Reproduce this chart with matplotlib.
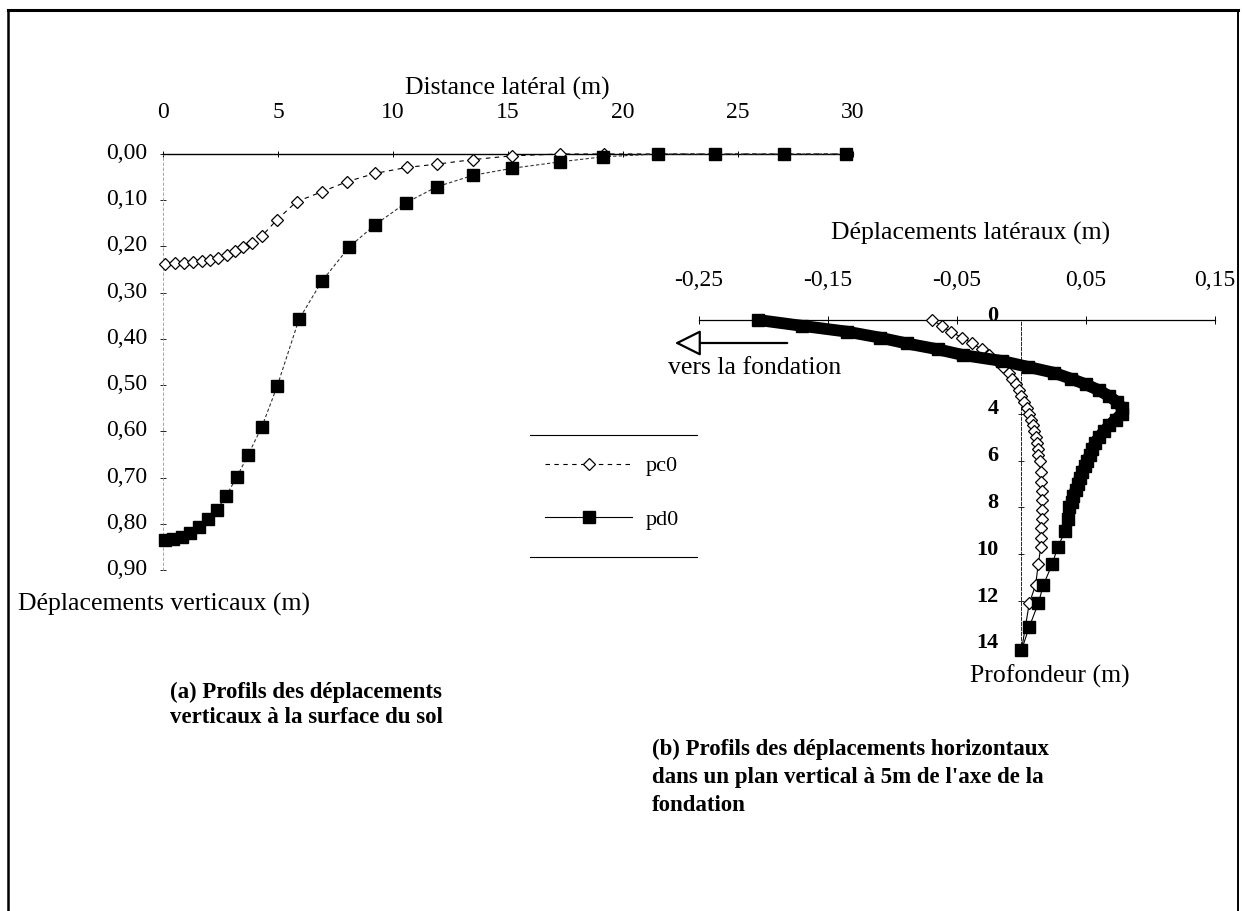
import matplotlib
matplotlib.use("Agg")
import matplotlib.pyplot as plt
from matplotlib.lines import Line2D
from matplotlib.patches import FancyArrowPatch
from matplotlib.ticker import FixedLocator, FuncFormatter
from matplotlib.transforms import ScaledTranslation

W, H = 1242, 911
plt.rcParams['font.family'] = ['Liberation Serif', 'DejaVu Serif']

# ---------------- data (a): vertical displacements at ground surface ----------------
a_pc0_dist = [0.1, 0.5, 0.9, 1.3, 1.7, 2.05, 2.4, 2.77, 3.13, 3.49, 3.86, 4.29,
              4.94, 5.81, 6.9, 7.99, 9.22, 10.6, 11.9, 13.49, 15.16, 17.26, 19.17,
              21.5, 24.0, 27.0, 29.7]
a_pc0_disp = [0.237, 0.236, 0.235, 0.234, 0.232, 0.229, 0.225, 0.219, 0.210, 0.201,
              0.192, 0.178, 0.143, 0.103, 0.082, 0.060, 0.042, 0.029, 0.022, 0.012,
              0.004, 0.0, 0.0, 0.0, 0.0, 0.0, 0.0]
a_pd0_dist = [0.1, 0.43, 0.83, 1.17, 1.57, 1.96, 2.35, 2.74, 3.22, 3.70, 4.30, 4.96,
              5.91, 6.91, 8.1, 9.2, 10.55, 11.9, 13.49, 15.16, 17.26, 19.14, 21.5,
              24.0, 27.0, 29.7]
a_pd0_disp = [0.835, 0.833, 0.829, 0.820, 0.807, 0.790, 0.770, 0.740, 0.698, 0.651,
              0.590, 0.503, 0.358, 0.275, 0.201, 0.154, 0.106, 0.071, 0.046, 0.031,
              0.017, 0.006, 0.0, 0.0, 0.0, 0.0]
a_xticks = [0, 5, 10, 15, 20, 25, 30]
a_yticks = [0.0, 0.1, 0.2, 0.3, 0.4, 0.5, 0.6, 0.7, 0.8, 0.9]

# ---------------- data (b): lateral displacements vs depth ----------------
b_pc0_depth = [0.0, 0.25, 0.5, 0.75, 1.0, 1.25, 1.5, 1.75, 2.0, 2.25, 2.5, 2.75, 3.0,
               3.25, 3.5, 3.75, 4.0, 4.25, 4.5, 4.75, 5.0, 5.25, 5.5, 5.75, 6.0, 6.5,
               6.9, 7.3, 7.7, 8.1, 8.5, 8.9, 9.3, 9.7, 10.4, 11.3, 12.1, 14.1]
b_pc0_disp = [-0.069, -0.062, -0.055, -0.046, -0.038, -0.031, -0.025, -0.019, -0.014,
              -0.010, -0.007, -0.004, -0.002, 0.0, 0.002, 0.004, 0.006, 0.007, 0.009,
              0.010, 0.011, 0.012, 0.013, 0.013, 0.014, 0.015, 0.015, 0.016, 0.016,
              0.016, 0.016, 0.015, 0.015, 0.015, 0.013, 0.011, 0.006, 0.0]
b_pd0_depth = [0.0, 0.25, 0.5, 0.75, 1.0, 1.25, 1.5, 1.75, 2.0, 2.25, 2.5, 2.75, 3.0,
               3.25, 3.5, 3.75, 4.0, 4.25, 4.5, 4.75, 5.0, 5.25, 5.5, 5.75, 6.0, 6.25,
               6.5, 6.75, 7.0, 7.25, 7.5, 7.75, 8.0, 8.5, 9.0, 9.7, 10.4, 11.3, 12.1,
               13.1, 14.1]
b_pd0_disp = [-0.204, -0.17, -0.135, -0.11, -0.089, -0.065, -0.045, -0.015, 0.005,
              0.025, 0.038, 0.05, 0.06, 0.068, 0.074, 0.078, 0.078, 0.073, 0.068, 0.064,
              0.060, 0.057, 0.055, 0.053, 0.051, 0.049, 0.047, 0.045, 0.044, 0.042,
              0.040, 0.039, 0.037, 0.036, 0.034, 0.028, 0.024, 0.017, 0.013, 0.006, 0.0]
b_xticks = [-0.25, -0.15, -0.05, 0.05, 0.15]
b_yticks = [0, 2, 4, 6, 8, 10, 12, 14]
b_ylabels = ['0', '', '4', '6', '8', '10', '12', '14']

series_labels = ['pc0', 'pd0']

TICK_FS = 17
TITLE_FS = 18.5
CAP_FS = 16.5


def rect(l, t, r, b):
    return [l / W, 1 - b / H, (r - l) / W, (b - t) / H]


def fx(x):
    return x / W


def fy(y):
    return 1 - y / H


def comma(v, p):
    return f"{v:.2f}".replace('.', ',')


def lift_labels(ax, dy_px, dx_px=0):
    off = ScaledTranslation(dx_px / 100, dy_px / 100, fig.dpi_scale_trans)
    for lab in ax.get_yticklabels():
        lab.set_transform(lab.get_transform() + off)


fig = plt.figure(figsize=(W / 100, H / 100), dpi=100)
fig.patch.set_facecolor('white')

# ---------------- chart (a) ----------------
axa = fig.add_axes(rect(163, 154, 853, 570))
axa.set_xlim(0, 30)
axa.set_ylim(0.9, 0.0)
axa.patch.set_alpha(0)
for s in ['bottom', 'right']:
    axa.spines[s].set_visible(False)
axa.spines['top'].set_linewidth(1.0)
axa.spines['left'].set_linewidth(0.6)
axa.spines['left'].set_color('#999999')
axa.spines['left'].set_linestyle((0, (3, 3)))
axa.xaxis.tick_top()
axa.xaxis.set_major_locator(FixedLocator(a_xticks))
axa.yaxis.set_major_locator(FixedLocator(a_yticks))
axa.yaxis.set_major_formatter(FuncFormatter(comma))
axa.tick_params(axis='x', direction='inout', length=4, width=0.7, pad=20,
                labelsize=TICK_FS)
axa.tick_params(axis='y', direction='inout', length=4, width=0.6, pad=9,
                labelsize=TICK_FS, colors='black')

axa.plot(a_pc0_dist, a_pc0_disp, color='black', lw=0.8, linestyle=(0, (4, 4)),
         marker='D', ms=6, mfc='white', mec='black', mew=0.9, clip_on=False, zorder=3)
axa.plot(a_pd0_dist, a_pd0_disp, color='#333333', lw=0.8, linestyle=(0, (3, 2)),
         marker='s', ms=8.5, mfc='black', mec='black', clip_on=False, zorder=4)

fig.text(fx(507), fy(88), 'Distance latéral (m)', ha='center', va='center',
         fontsize=TITLE_FS)
fig.text(fx(18), fy(604), 'Déplacements verticaux (m)', ha='left', va='center',
         fontsize=TITLE_FS)

# legend
leg_pc0 = Line2D([], [], color='black', lw=0.8, linestyle=(0, (4, 4)), marker='D',
                 ms=6, mfc='white', mec='black', mew=0.9)
leg_pd0 = Line2D([], [], color='black', lw=0.8, marker='s', ms=8.5, mfc='black',
                 mec='black')
fig.legend([leg_pc0, leg_pd0], series_labels, loc='center',
           bbox_to_anchor=(fx(612), fy(493)), frameon=False, fontsize=TICK_FS - 1,
           handlelength=3.9, handletextpad=0.6, labelspacing=1.5)
fig.add_artist(Line2D([fx(530), fx(697)], [fy(435), fy(435)], color='black', lw=0.8,
                      transform=fig.transFigure))
fig.add_artist(Line2D([fx(530), fx(697)], [fy(557), fy(557)], color='black', lw=0.8,
                      transform=fig.transFigure))

# ---------------- chart (b) ----------------
axb = fig.add_axes(rect(699, 320, 1215, 655))
axb.set_xlim(-0.25, 0.15)
axb.set_ylim(14.3, 0.0)
axb.patch.set_alpha(0)
for s in ['bottom', 'right']:
    axb.spines[s].set_visible(False)
axb.spines['top'].set_linewidth(0.9)
axb.spines['left'].set_position(('data', 0))
axb.spines['left'].set_linewidth(0.6)
axb.spines['left'].set_linestyle((0, (4, 2)))
axb.xaxis.tick_top()
axb.xaxis.set_major_locator(FixedLocator(b_xticks))
axb.xaxis.set_major_formatter(FuncFormatter(comma))
axb.tick_params(axis='x', direction='inout', length=6, width=0.7, pad=18,
                labelsize=TICK_FS)
axb.yaxis.set_major_locator(FixedLocator(b_yticks))
axb.set_yticklabels(b_ylabels, fontweight='bold')
axb.tick_params(axis='y', direction='inout', length=5, width=0.6, pad=14,
                labelsize=TICK_FS - 1)

# dense upper part of pd0 appears as a continuous thick band
n_dense = sum(1 for d in b_pd0_depth if d <= 8.0)
axb.plot(b_pd0_disp[:n_dense], b_pd0_depth[:n_dense], color='black', lw=8.5,
         solid_capstyle='butt', solid_joinstyle='round', clip_on=False, zorder=4)
axb.plot(b_pc0_disp, b_pc0_depth, color='black', lw=0.8, marker='D', ms=6.5,
         mfc='white', mec='black', mew=0.9, clip_on=False, zorder=3)
axb.plot(b_pd0_disp, b_pd0_depth, color='black', lw=0.8, marker='s', ms=8,
         mfc='black', mec='black', clip_on=False, zorder=4)

fig.text(fx(831), fy(233), 'Déplacements latéraux (m)', ha='left', va='center',
         fontsize=TITLE_FS)
fig.text(fx(970), fy(676), 'Profondeur (m)', ha='left', va='center',
         fontsize=TITLE_FS)

# arrow "vers la fondation"
fig.add_artist(FancyArrowPatch(
    (fx(790), fy(343)), (fx(672), fy(343)), transform=fig.transFigure,
    arrowstyle='-|>,head_length=0.9,head_width=0.45', mutation_scale=18,
    fc='white', ec='black', lw=1.6))
fig.text(fx(668), fy(368), 'vers la fondation', ha='left', va='center',
         fontsize=TITLE_FS)

# captions
fig.text(fx(170), fy(682), '(a) Profils des déplacements\nverticaux à la surface du sol',
         ha='left', va='top', fontsize=CAP_FS, fontweight='bold', linespacing=1.25)
fig.text(fx(652), fy(739),
         "(b) Profils des déplacements horizontaux\ndans un plan vertical à 5m de l'axe de la\nfondation",
         ha='left', va='top', fontsize=CAP_FS, fontweight='bold', linespacing=1.42)

# frame around the figure (top, left, right)
fig.add_artist(Line2D([fx(8), fx(1238)], [fy(10), fy(10)], color='black', lw=2.2,
                      transform=fig.transFigure))
fig.add_artist(Line2D([fx(8), fx(8)], [fy(10), fy(911)], color='black', lw=1.8,
                      transform=fig.transFigure))
fig.add_artist(Line2D([fx(1238), fx(1238)], [fy(10), fy(911)], color='black', lw=1.4,
                      transform=fig.transFigure))

# tick labels sit slightly above their ticks, as in the original
lift_labels(axa, 3)
lift_labels(axb, 7)

fig.savefig('out.png', dpi=100, facecolor='white')
